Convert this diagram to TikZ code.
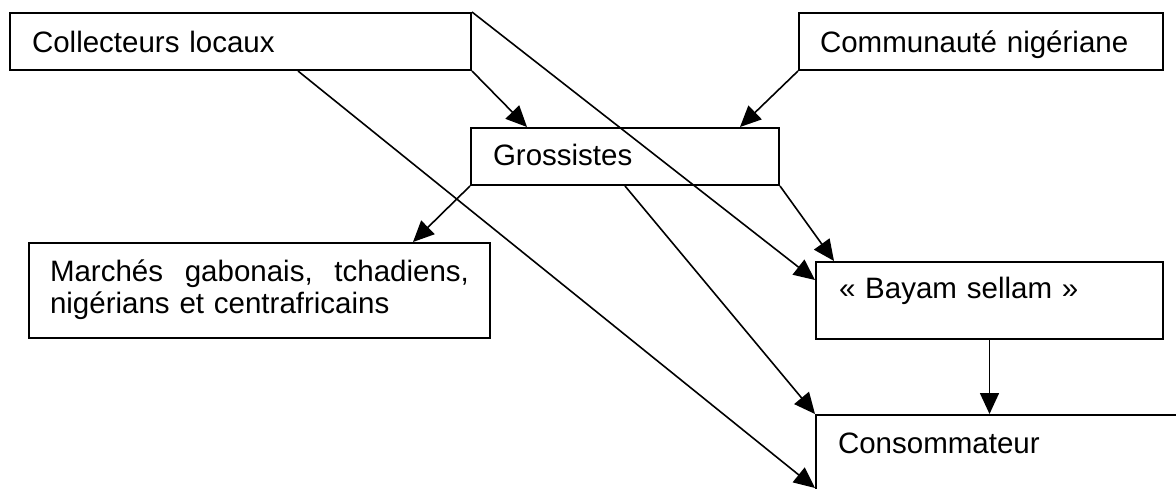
\documentclass[tikz,border=0pt]{standalone}
\usepackage{fontspec}
\setmainfont{Liberation Sans}
\usetikzlibrary{arrows.meta,calc}
\begin{document}
\begin{tikzpicture}[x=1pt,y=-1pt,
  box/.style={draw, line width=2pt, inner ysep=0pt, anchor=north west, align=left,
    font=\fontsize{29.5}{32.5}\selectfont},
  link/.style={line width=1.6pt, -{Triangle[length=21pt,width=19pt]}}]
\useasboundingbox (0,0) rectangle (1176,488);
\clip (0,0) rectangle (1176,488);
\fill[white] (0,0) rectangle (1176,488);
\node[box, inner xsep=22pt, text width=417pt, text height=39pt, text depth=18pt] (col) at (9,12) {Collecteurs locaux};
\node[box, inner xsep=21pt, text width=322pt, text height=39pt, text depth=18pt] (com) at (798,12) {Communauté nigériane};
\node[box, inner xsep=22pt, text width=264pt, text height=37pt, text depth=20pt] (gro) at (470,127) {Grossistes};
\node[box, inner xsep=21pt, text width=419pt, text height=38pt, text depth=57pt] (mar) at (28,242) {\makebox[419pt][s]{Marchés\hfill gabonais,\hfill tchadiens,}\\nigérians et centrafricains};
\node[box, inner xsep=23pt, text width=301pt, text height=36pt, text depth=41pt] (bay) at (815,261) {« Bayam sellam »};
\node[box, inner xsep=22pt, text width=331pt, text height=38pt, text depth=48pt] (con) at (815,414) {Consommateur};
\draw[link] (col.south east) -- ($(gro.north west)+(57,0)$);
\draw[link] (com.south west) -- ($(gro.north west)+(270,0)$);
\draw[link] (col.north east) -- ($(bay.north west)+(0,19)$);
\draw[link] (gro.south east) -- ($(bay.north west)+(19,0)$);
\draw[link] (gro.south west) -- ($(mar.north west)+(385,0)$);
\draw[link] ($(gro.south west)+(155,0)$) -- (con.north west);
\draw[link] ($(col.south west)+(289,0)$) -- ($(con.north west)+(0,74)$);
\draw[link] (bay.south) -- (bay.south |- con.north);
\end{tikzpicture}
\end{document}
